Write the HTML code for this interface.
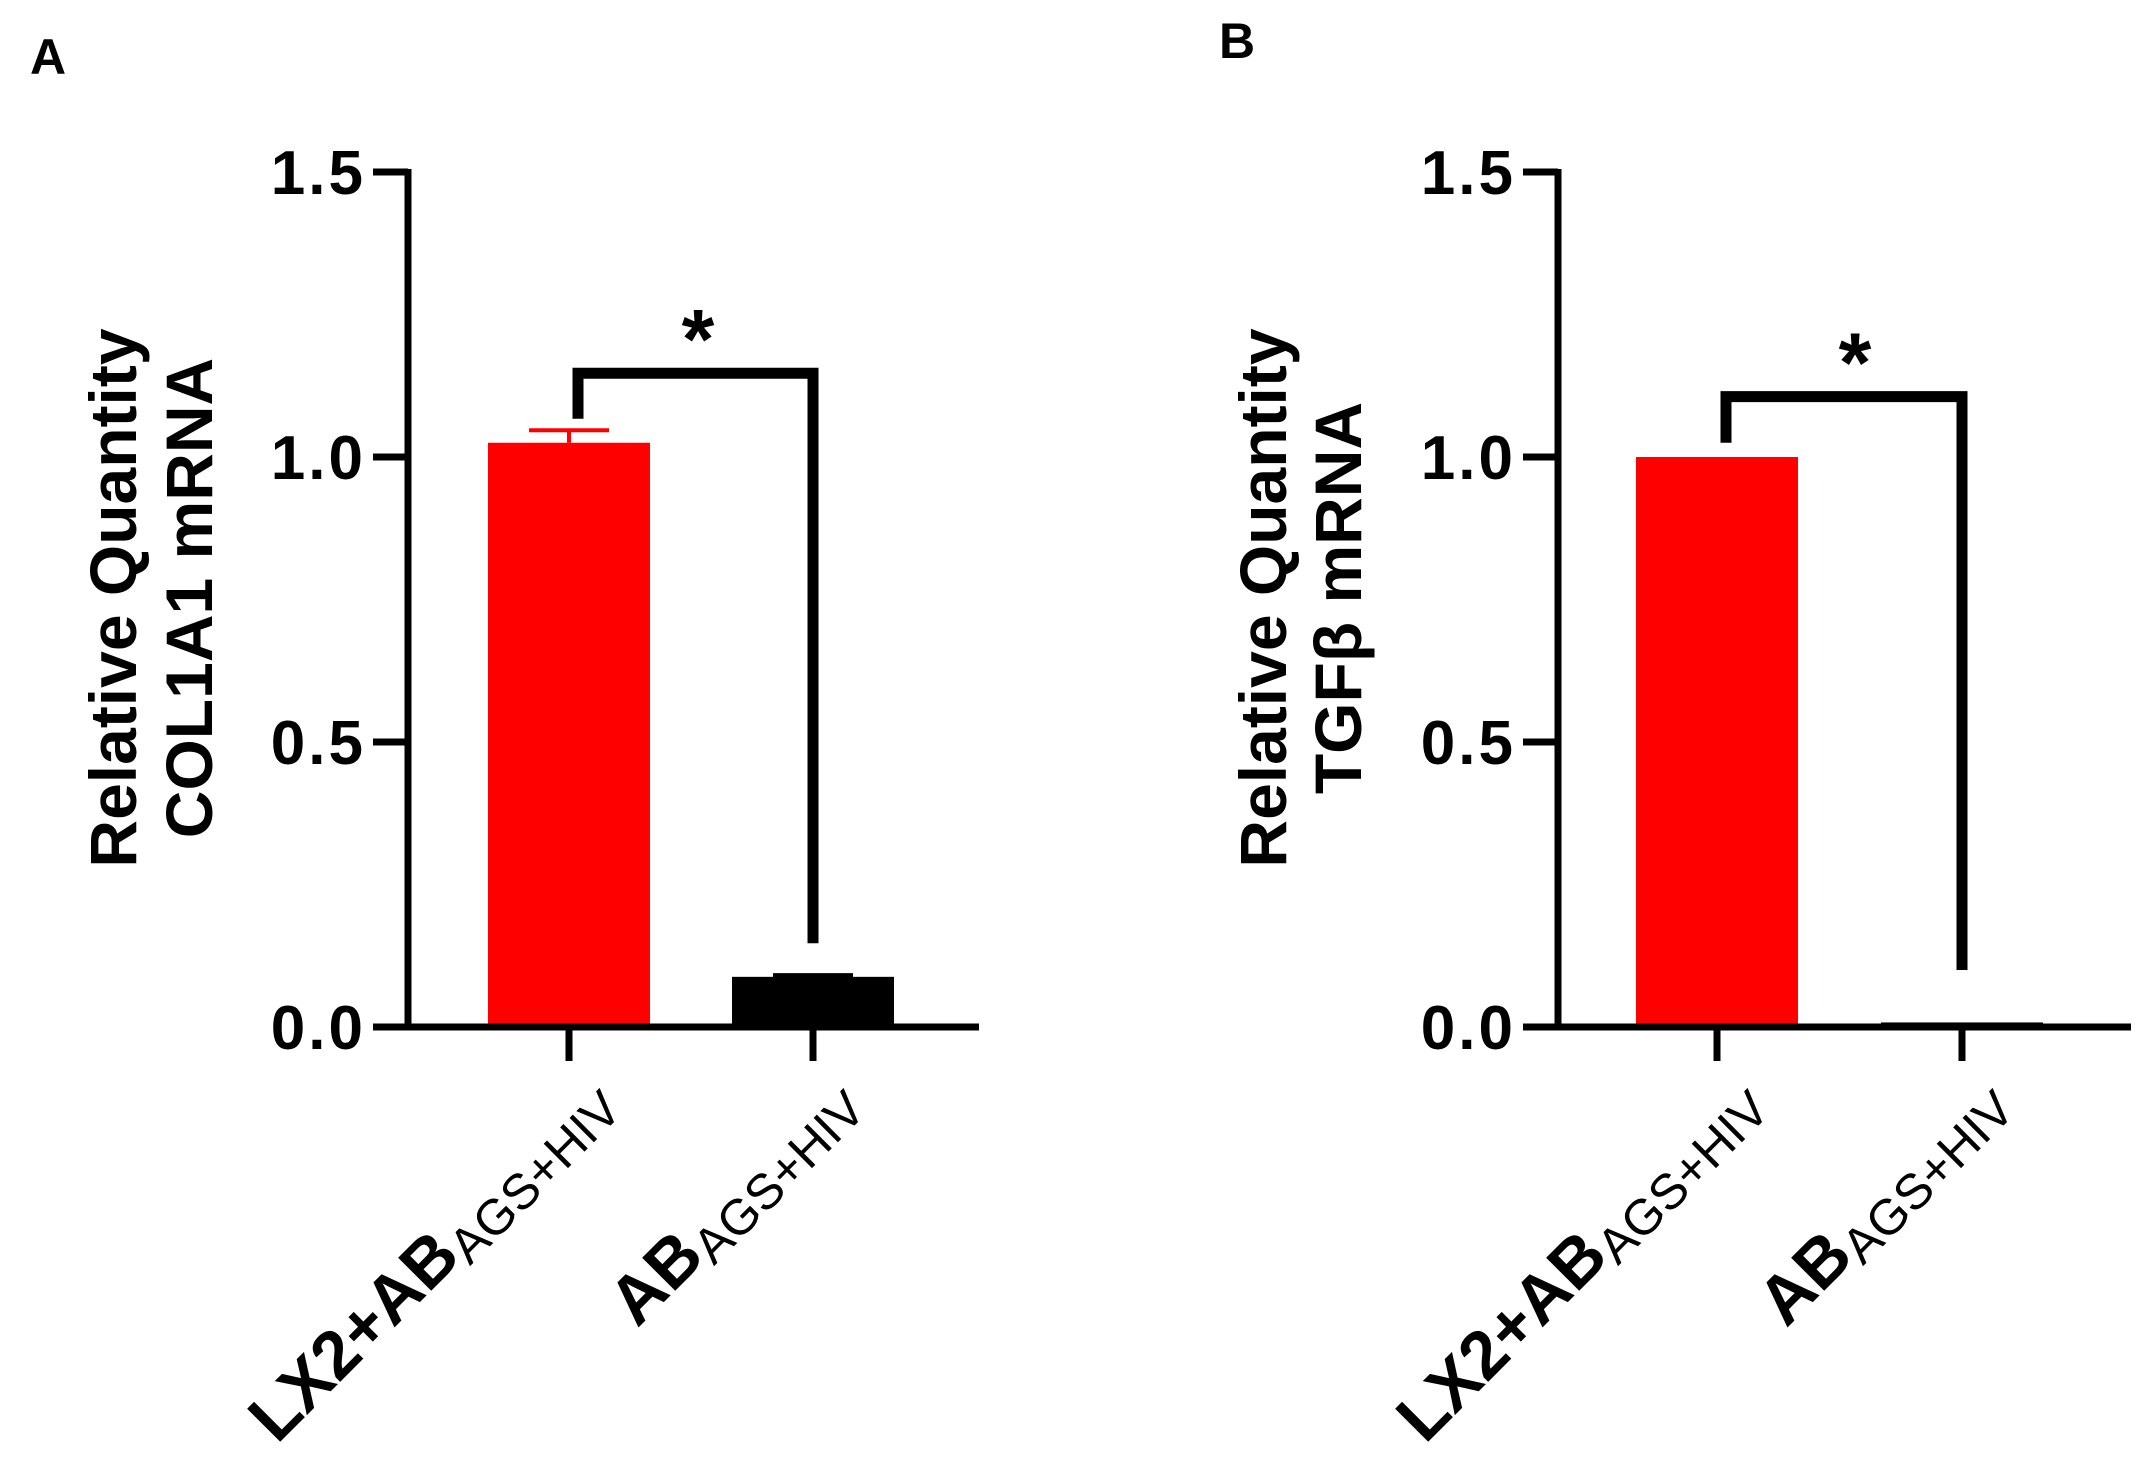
<!DOCTYPE html>
<html><head><meta charset="utf-8"><style>
html,body{margin:0;padding:0;background:#fff;}
svg{display:block;font-family:"Liberation Sans",Arial,sans-serif;}
</style></head><body>
<svg id="chart" width="2156" height="1467" viewBox="0 0 2156 1467"></svg>
<script>
const categories = ["LX2+AB", "AB"];
const subscripts = ["AGS+HIV", "AGS+HIV"];
const panelLabels = ["A", "B"];
const yTitles1 = ["Relative Quantity", "Relative Quantity"];
const yTitles2 = ["COL1A1 mRNA", "TGFβ mRNA"];
const valuesA = [1.025, 0.088];
const errorsA = [0.022, 0.003];
const valuesB = [1.0, 0.008];
const errorsB = [0, 0];
const yTicks = [0, 0.5, 1.0, 1.5];
const yTickLabels = ["0.0", "0.5", "1.0", "1.5"];
const bracketA = [1.147, 1.067, 0.147];
const bracketB = [1.106, 1.025, 0.10];

const NS = "http://www.w3.org/2000/svg";
const svg = document.getElementById("chart");
function mk(tag, attrs, parent){const e=document.createElementNS(NS,tag);for(const k in attrs)e.setAttribute(k,attrs[k]);(parent||svg).appendChild(e);return e;}

const panels = [
 {ax:408, xEnd:979, cx:[569,813], bw:162, vals:valuesA, errs:errorsA, br:bracketA, colors:["#ff0000","#000000"], lab:[48,56], t1:112, t2:188, star:698},
 {ax:1558, xEnd:2131, cx:[1717,1962], bw:162, vals:valuesB, errs:errorsB, br:bracketB, colors:["#ff0000","#000000"], lab:[1237,40], t1:1262, t2:1337, star:1855}
];
const y0 = 1027, yTop = 172;
function yScale(v){return y0 - (v/1.5)*(y0-yTop);}

panels.forEach((p,pi)=>{
  const g = mk("g",{});
  
  
  const pl = mk("text",{x:p.lab[0],y:p.lab[1]+18,"font-size":50,"font-weight":"bold","text-anchor":"middle"},g);
  pl.textContent = panelLabels[pi];
  
  
  p.vals.forEach((v,i)=>{
    const top = yScale(v);
    const r = mk("rect",{x:p.cx[i]-p.bw/2,y:top,width:p.bw,height:Math.max(y0-top,3),fill:p.colors[i]},g);
    
    
    if(p.errs[i]>0){
      const ye = yScale(v+p.errs[i]);
      const e1 = mk("line",{x1:p.cx[i],x2:p.cx[i],y1:top,y2:ye,stroke:p.colors[i],"stroke-width":4},g);
      
      
      const e2 = mk("line",{x1:p.cx[i]-40,x2:p.cx[i]+40,y1:ye,y2:ye,stroke:p.colors[i],"stroke-width":4},g);
      
      
    }
  });
  const ya = mk("line",{x1:p.ax,x2:p.ax,y1:yTop-3,y2:y0+3,stroke:"#000","stroke-width":7},g);
  
  
  const xa = mk("line",{x1:p.ax-3,x2:p.xEnd,y1:y0,y2:y0,stroke:"#000","stroke-width":7},g);
  
  
  yTicks.forEach((t,i)=>{
    const yy = yScale(t);
    const tl = mk("line",{x1:p.ax-35,x2:p.ax,y1:yy,y2:yy,stroke:"#000","stroke-width":7},g);
    
    
    const tx = mk("text",{x:p.ax-42,y:yy+22,"font-size":62,"font-weight":"bold","text-anchor":"end","letter-spacing":"3"},g);
    tx.textContent = yTickLabels[i];
    
    
  });
  p.cx.forEach((c,i)=>{
    const tk = mk("line",{x1:c,x2:c,y1:y0,y2:y0+34,stroke:"#000","stroke-width":7},g);
    
    
    const lx = c+48, ly = y0+78;
    const t = mk("text",{x:lx,y:ly,"text-anchor":"end",transform:`rotate(-45 ${lx} ${ly})`},g);
    
    
    const s1 = mk("tspan",{"font-size":68,"font-weight":"bold"},t); s1.textContent = categories[i];
    const s2 = mk("tspan",{"font-size":50,dy:10},t); s2.textContent = subscripts[i];
  });
  [[p.t1,yTitles1[pi]],[p.t2,yTitles2[pi]]].forEach(([x,txt],k)=>{
    const t = mk("text",{x:x+24,y:598,"font-size":66,"font-weight":"bold","text-anchor":"middle",transform:`rotate(-90 ${x+24} 598)`},g);
    t.textContent = txt;
    
    
  });
  const bt = yScale(p.br[0]), bl = yScale(p.br[1]), brr = yScale(p.br[2]);
  const xl = p.cx[0]+9, xr = p.cx[1];
  const b = mk("path",{d:`M${xl} ${bl} L${xl} ${bt} L${xr} ${bt} L${xr} ${brr}`,fill:"none",stroke:"#000","stroke-width":11},g);
  
  
  const st = mk("text",{x:p.star,y:bt-5,"font-size":84,"font-weight":"bold","text-anchor":"middle"},g);
  st.textContent = "*";
  
  
});
</script>
</body></html>
